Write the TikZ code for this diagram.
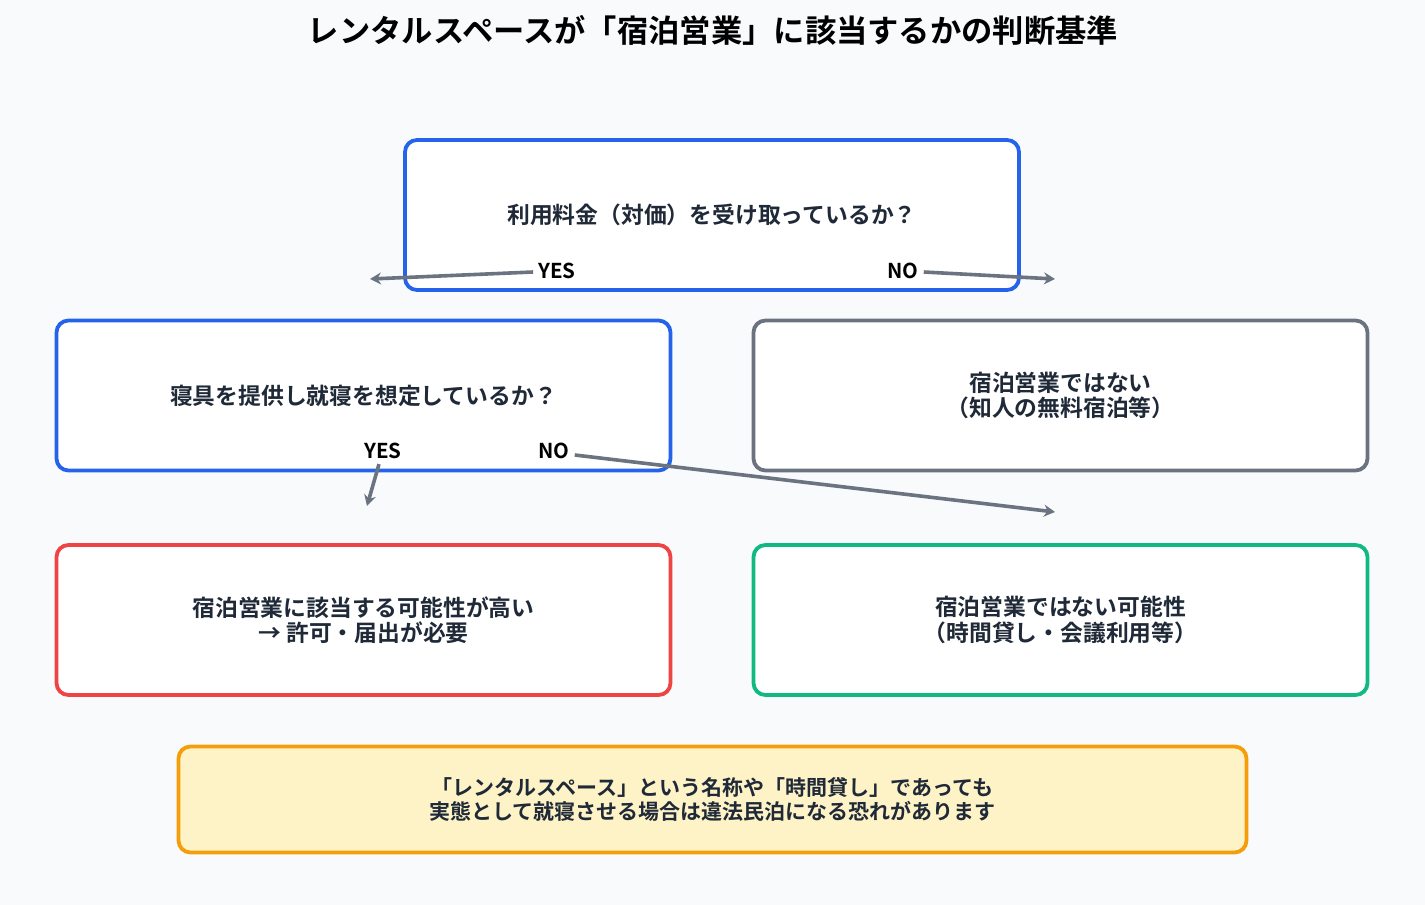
\documentclass[tikz,border=0pt]{standalone}
\usepackage{fontspec}
\setmainfont{Noto Sans CJK JP}[BoldFont={Noto Sans CJK JP Bold}]
\usetikzlibrary{arrows.meta}
\definecolor{bgcol}{HTML}{F8FAFC}
\definecolor{txtcol}{HTML}{1F2937}
\definecolor{bluecol}{HTML}{2563EB}
\definecolor{graycol}{HTML}{6B7280}
\definecolor{redcol}{HTML}{EF4444}
\definecolor{greencol}{HTML}{10B981}
\definecolor{orangecol}{HTML}{F59E0B}
\definecolor{notecol}{HTML}{FEF3C7}
\tikzset{
  box/.style={draw, line width=3.8pt, rounded corners=12pt, fill=white,
    minimum width=614pt, minimum height=150pt, align=center, text=txtcol,
    font=\bfseries\fontsize{22.8}{25.5}\selectfont},
  ans/.style={font=\bfseries\fontsize{20.5}{22}\selectfont, text=black, inner sep=1pt},
  link/.style={draw=graycol, line width=3.6pt, -{Stealth[length=11pt,width=12pt]}}
}
\begin{document}
\begin{tikzpicture}[x=1pt,y=-1pt]
	\fill[bgcol] (0,0) rectangle (1425,905);
	\useasboundingbox (0,0) rectangle (1425,905);
	\node (title) at (713,30) {\bfseries\fontsize{31.3}{34}\selectfont レンタルスペースが「宿泊営業」に該当するかの判断基準};
	% questions
	\node[box, draw=bluecol] (q1) at (712,215) {利用料金（対価）を受け取っているか？};
	\node[box, draw=bluecol] (q2) at (363.5,395.5) {寝具を提供し就寝を想定しているか？};
	% results
	\node[box, draw=graycol] (r1) at (1060.5,395.5) {宿泊営業ではない\\（知人の無料宿泊等）};
	\node[box, draw=redcol] (r2) at (363.5,620) {宿泊営業に該当する可能性が高い\\→ 許可・届出が必要};
	\node[box, draw=greencol] (r3) at (1060.5,620) {宿泊営業ではない可能性\\（時間貸し・会議利用等）};
	\node[box, draw=orangecol, fill=notecol, minimum width=1068pt, minimum height=106pt,
		font=\bfseries\fontsize{21}{24}\selectfont] (note) at (712.5,799.5)
		{「レンタルスペース」という名称や「時間貸し」であっても\\実態として就寝させる場合は違法民泊になる恐れがあります};
	% labels
	\node[ans] (y1) at (557,271) {YES};
	\node[ans] (n1) at (903,271) {NO};
	\node[ans] (y2) at (383,451) {YES};
	\node[ans] (n2) at (554,451) {NO};
	\coordinate (y1end) at (370,279);
	\coordinate (n1end) at (1055,279);
	\coordinate (y2end) at (367,506);
	\coordinate (n2end) at (1055,512);
	\draw[link] (y1.west) ++(-4,1) -- (y1end);
	\draw[link] (n1.east) ++(4,1) -- (n1end);
	\draw[link] (y2.south) ++(-4,4) -- (y2end);
	\draw[link] (n2.east) ++(4,4) -- (n2end);
\end{tikzpicture}
\end{document}
